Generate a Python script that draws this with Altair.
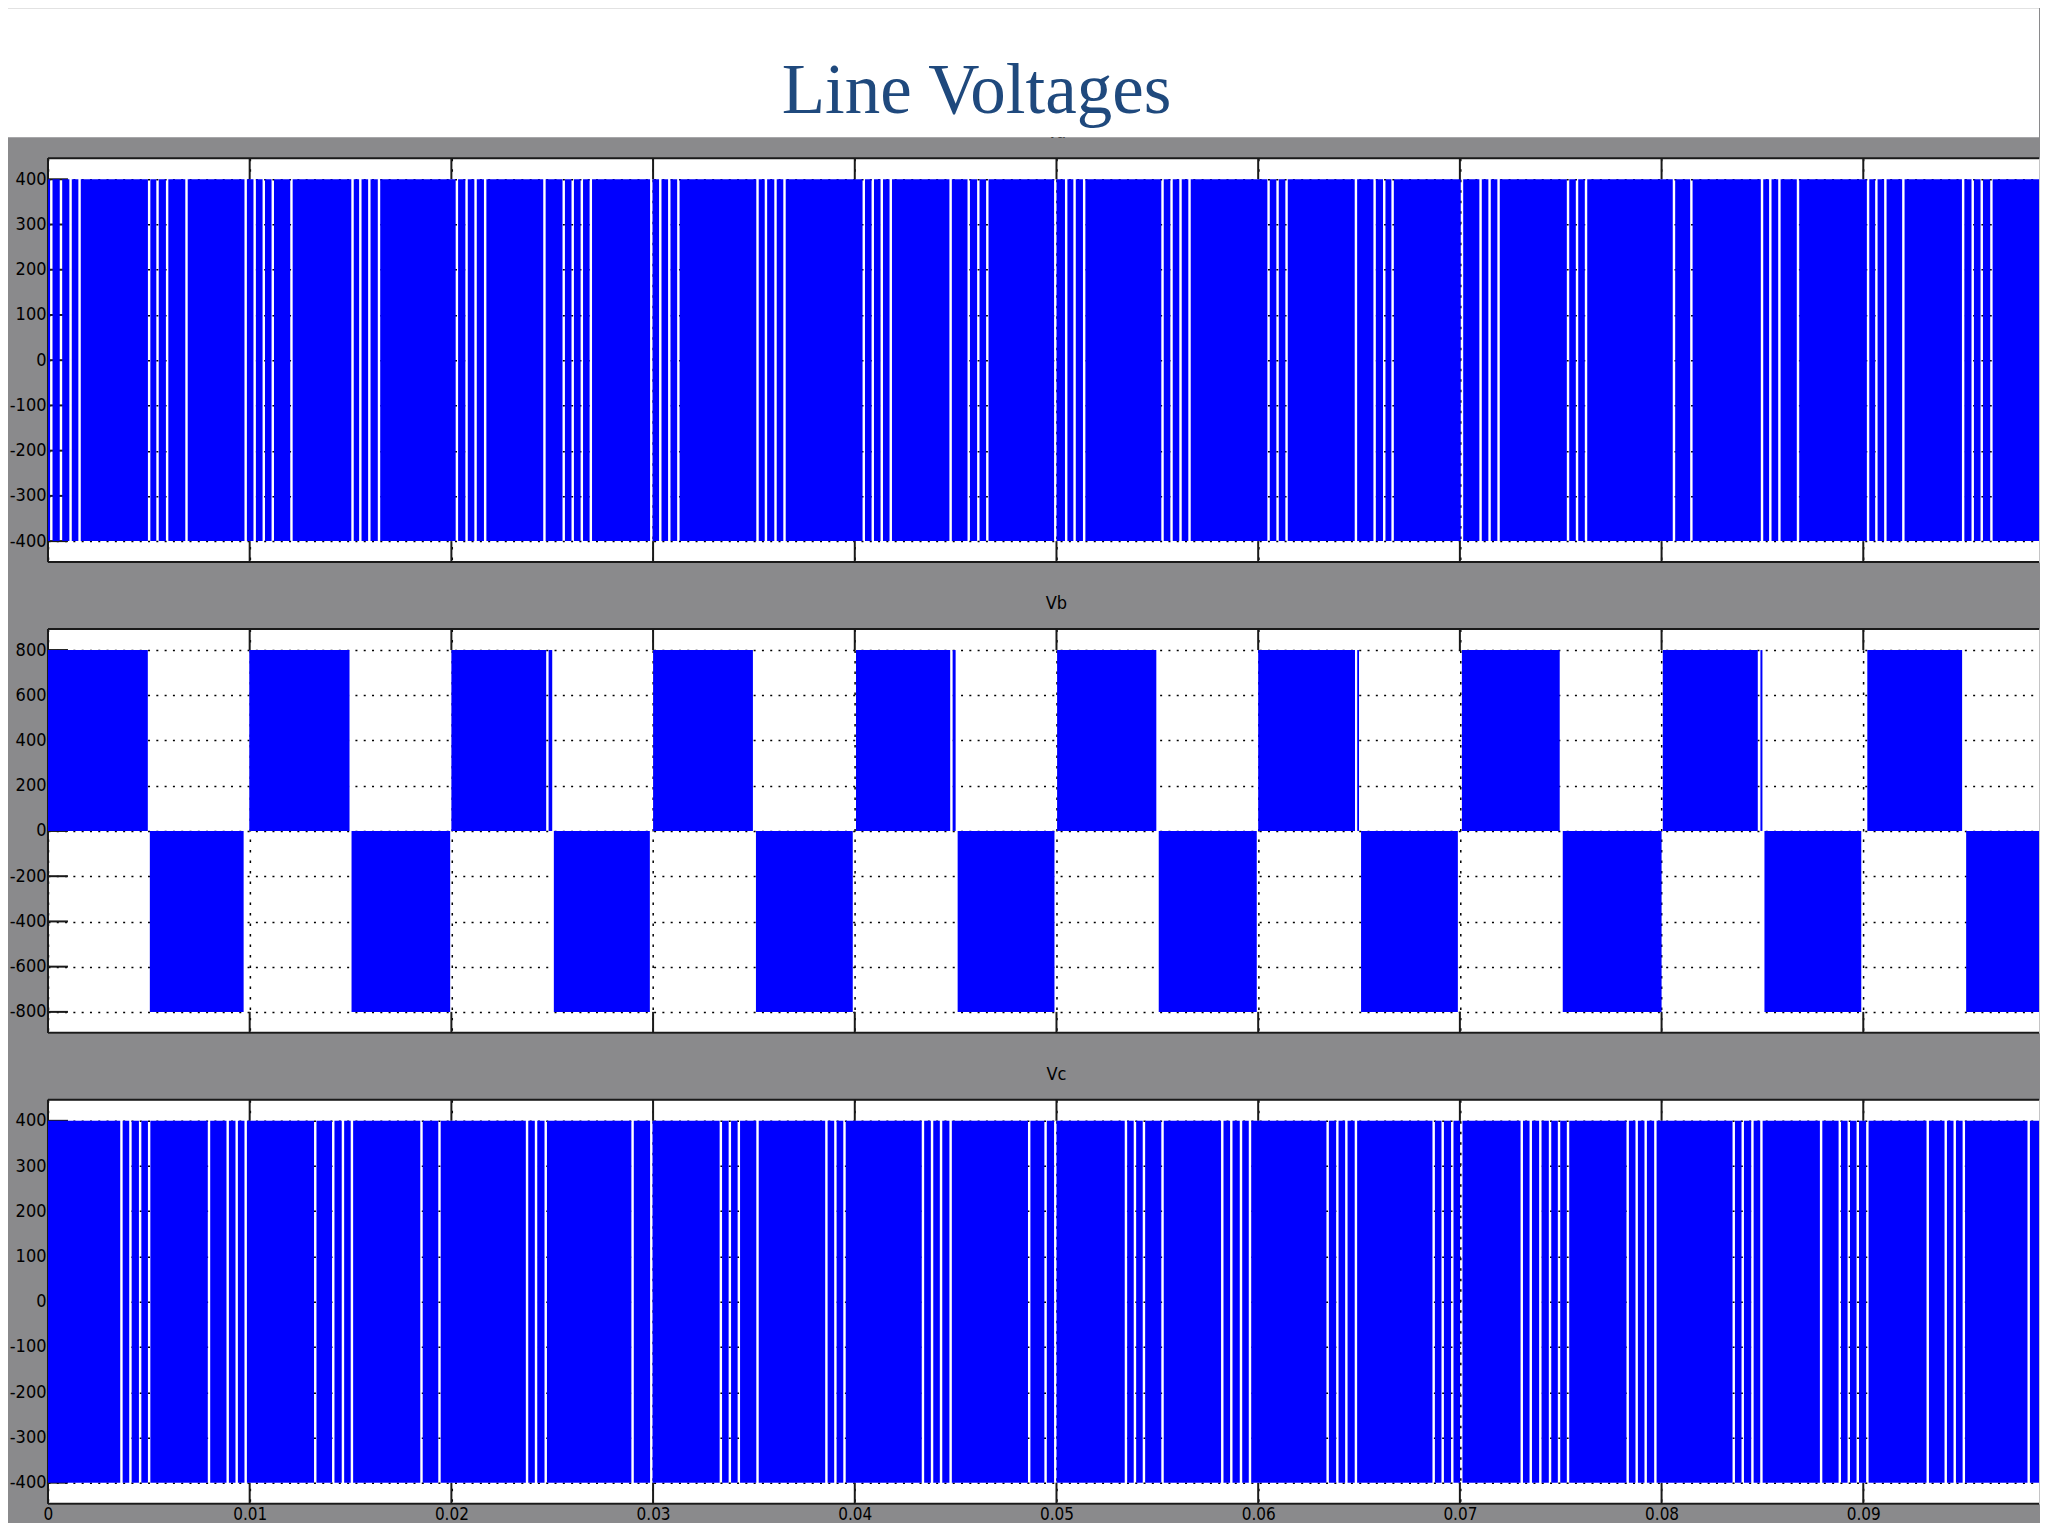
import altair as alt
import pandas as pd

# ---------------- data ----------------
TITLE = "Line Voltages"
PANEL_NAMES = ["Va", "Vb", "Vc"]
T_END = 0.098712          # right edge of the visible part of the time axis (s)
X_TICKS = [0, 0.01, 0.02, 0.03, 0.04, 0.05, 0.06, 0.07, 0.08, 0.09]
VA_TICKS = [-400, -300, -200, -100, 0, 100, 200, 300, 400]
VB_TICKS = [-800, -600, -400, -200, 0, 200, 400, 600, 800]
VC_TICKS = [-400, -300, -200, -100, 0, 100, 200, 300, 400]
VA_LEVEL = 400
VC_LEVEL = 400

# times (s) of the white gaps in the dense PWM band of Va
VA_GAPS = [0.000164, 0.000644, 0.00112, 0.001566,
           0.005015, 0.005431, 0.005907, 0.006868,
           0.009802, 0.010248, 0.010699, 0.011145, 0.012071,
           0.015099, 0.015486, 0.015932, 0.016412,
           0.020273, 0.020753, 0.021199, 0.021675,
           0.024614, 0.02557, 0.026016, 0.026467, 0.026913,
           0.029911, 0.030357, 0.030803, 0.031254,
           0.035178, 0.035595, 0.03607, 0.036516,
           0.040446, 0.040892, 0.041338, 0.041784,
           0.044752, 0.045649, 0.046125, 0.046571,
           0.049941, 0.050481, 0.050897, 0.051373,
           0.055258, 0.055704, 0.05615, 0.056596,
           0.060515, 0.060961, 0.061407,
           0.064846, 0.065773, 0.06625, 0.066665,
           0.070104, 0.071026, 0.071472, 0.071918,
           0.075362, 0.075808, 0.076254,
           0.080614, 0.081477,
           0.08498, 0.085391, 0.085842, 0.086764,
           0.090238, 0.090649, 0.091095, 0.091987,
           0.094951, 0.095426, 0.095873, 0.096353]

# times (s) of the white gaps in the dense PWM band of Vc
VC_GAPS = [0.003642, 0.004088, 0.004569, 0.005015,
           0.007983, 0.00891, 0.009356, 0.009802,
           0.013251, 0.014143, 0.014624, 0.015069,
           0.018518, 0.01941,
           0.023751, 0.024197, 0.024678,
           0.028984, 0.029911,
           0.03336, 0.033806, 0.034252, 0.035178,
           0.038593, 0.039039, 0.03949,
           0.04338, 0.043831, 0.044277, 0.044752,
           0.048647, 0.04946, 0.049941,
           0.053444, 0.05389, 0.054336, 0.055258,
           0.05822, 0.058667, 0.059148, 0.059594,
           0.063444, 0.063925, 0.064371, 0.064846,
           0.068701, 0.069148, 0.069623, 0.07007,
           0.073068, 0.073514, 0.073989, 0.07447, 0.074916, 0.075362,
           0.07832, 0.078766, 0.079212, 0.079693,
           0.083578, 0.084024, 0.084504, 0.08495,
           0.087909, 0.088836, 0.089281, 0.089727, 0.090203,
           0.093196, 0.094088, 0.094534, 0.094985,
           0.098201]

# Vb: filled blocks (start s, end s) at +800 and at -800
VB_LEVEL = 800
VB_POS_START = [0.0, 0.00998, 0.0200, 0.02482, 0.0300, 0.04006, 0.04485, 0.05003, 0.0600, 0.06491, 0.0701, 0.08006, 0.0849, 0.0902]
VB_POS_END = [0.00495, 0.01495, 0.0247, 0.0250, 0.03495, 0.04473, 0.0450, 0.05495, 0.0648, 0.0650, 0.07495, 0.08477, 0.0850, 0.0949]
VB_NEG_START = [0.00505, 0.01505, 0.02508, 0.0351, 0.0451, 0.05507, 0.0651, 0.0751, 0.0851, 0.0951]
VB_NEG_END = [0.0097, 0.01994, 0.02984, 0.0399, 0.0499, 0.05993, 0.0699, 0.0800, 0.0899, T_END]

GAP_HALF = 0.00006

# ---------------- layout / style ----------------
W = 1992
H = 404
FONT = "Liberation Sans Narrow, DejaVu Sans Condensed, Noto Sans Condensed, Liberation Sans, Arial, sans-serif"
LAB_SIZE = 18
BLUE = "#0000ff"
GRAY = "#8a8a8c"
EDGE = "#1a1a1a"


def band_segments(gaps, level):
    edges = [0.0] + gaps + [T_END]
    rows = []
    for i in range(len(edges) - 1):
        a, b = edges[i], edges[i + 1]
        s = a if i == 0 else a + GAP_HALF
        e = b if i == len(edges) - 2 else b - GAP_HALF
        rows.append({"t0": s, "t1": e, "v0": -level, "v1": level})
    return pd.DataFrame(rows)


def vb_segments():
    rows = []
    for s, e in zip(VB_POS_START, VB_POS_END):
        rows.append({"t0": s, "t1": e, "v0": 0, "v1": VB_LEVEL})
    for s, e in zip(VB_NEG_START, VB_NEG_END):
        rows.append({"t0": s, "t1": e, "v0": -VB_LEVEL, "v1": 0})
    return pd.DataFrame(rows)


def panel(seg_df, y_dom, y_ticks, name, show_x_labels, top=False):
    xs = alt.Scale(domain=[0, T_END], nice=False, zero=False)
    ys = alt.Scale(domain=y_dom, nice=False, zero=False)
    x_axis = alt.Axis(values=X_TICKS, title=None, grid=True, ticks=False, domain=False,
                      labels=show_x_labels, labelExpr="'' + datum.value", labelPadding=3,
                      labelFlush=False, labelFont=FONT, labelFontSize=17, labelColor="#000",
                      gridDash=[2.5, 8], gridColor="#000", gridWidth=1.5, gridOpacity=1)
    y_axis = alt.Axis(values=y_ticks, title=None, grid=True, ticks=False, domain=False,
                      labelExpr="'' + datum.value", labelPadding=2,
                      labelFont=FONT, labelFontSize=LAB_SIZE, labelColor="#000",
                      gridDash=[2, 6.3], gridColor="#000", gridWidth=1.5, gridOpacity=1)

    one = pd.DataFrame({"a": [0]})
    xt = pd.DataFrame({"t": X_TICKS})
    yt = pd.DataFrame({"v": y_ticks})

    blue = alt.Chart(seg_df).mark_rect(color=BLUE).encode(
        x=alt.X("t0:Q", scale=xs, axis=x_axis), x2="t1:Q",
        y=alt.Y("v0:Q", scale=ys, axis=y_axis), y2="v1:Q")
    box_top = alt.Chart(one).mark_rule(color=EDGE, strokeWidth=2).encode(
        x=alt.value(0), x2=alt.value(W), y=alt.value(0))
    box_bot = alt.Chart(one).mark_rule(color=EDGE, strokeWidth=2).encode(
        x=alt.value(0), x2=alt.value(W), y=alt.value(H))
    box_left = alt.Chart(one).mark_rule(color=EDGE, strokeWidth=2).encode(
        x=alt.value(0), y=alt.value(0), y2=alt.value(H))
    top_ticks = alt.Chart(xt).mark_rule(color=EDGE, strokeWidth=2).encode(
        x=alt.X("t:Q", scale=xs, axis=x_axis), y=alt.value(0), y2=alt.value(21))
    bot_ticks = alt.Chart(xt).mark_rule(color=EDGE, strokeWidth=2).encode(
        x=alt.X("t:Q", scale=xs, axis=x_axis), y=alt.value(H - 21), y2=alt.value(H))
    left_ticks = alt.Chart(yt).mark_rule(color=EDGE, strokeWidth=2).encode(
        y=alt.Y("v:Q", scale=ys, axis=y_axis), x=alt.value(0), x2=alt.value(20))
    lab = alt.Chart(pd.DataFrame({"t": [0.05], "name": [name]})).mark_text(
        font=FONT, fontSize=LAB_SIZE, baseline="middle", align="center", color="#000").encode(
        x=alt.X("t:Q", scale=xs, axis=x_axis), y=alt.value(-25), text="name:N")

    # frame and ticks first, the blue band above them
    layers = [box_top, box_bot, box_left, top_ticks, bot_ticks, left_ticks, blue, lab]
    if top:
        cover = alt.Chart(one).mark_rect(color="white").encode(
            x=alt.value(-40), x2=alt.value(W), y=alt.value(-150), y2=alt.value(-21))
        ttl = alt.Chart(pd.DataFrame({"title": [TITLE]})).mark_text(
            font="Liberation Serif", fontSize=71, color="#1f497d", align="center",
            baseline="alphabetic").encode(x=alt.value(929), y=alt.value(-45), text="title:N")
        layers += [cover, ttl]
    return alt.layer(*layers).properties(width=W, height=H)


pa = panel(band_segments(VA_GAPS, VA_LEVEL), [-446.4, 446.4], VA_TICKS, PANEL_NAMES[0], False, top=True)
pb = panel(vb_segments(), [-892.8, 892.8], VB_TICKS, PANEL_NAMES[1], False)
pc = panel(band_segments(VC_GAPS, VC_LEVEL), [-446.4, 446.4], VC_TICKS, PANEL_NAMES[2], True)

chart = alt.vconcat(pa, pb, pc, spacing=67, bounds="flush").properties(
    padding={"left": 0, "top": 0, "right": 0, "bottom": 0}
).configure(
    background=GRAY
).configure_view(fill="white", strokeOpacity=0)

chart.save("out.html", embed_options={"renderer": "svg", "actions": False})
